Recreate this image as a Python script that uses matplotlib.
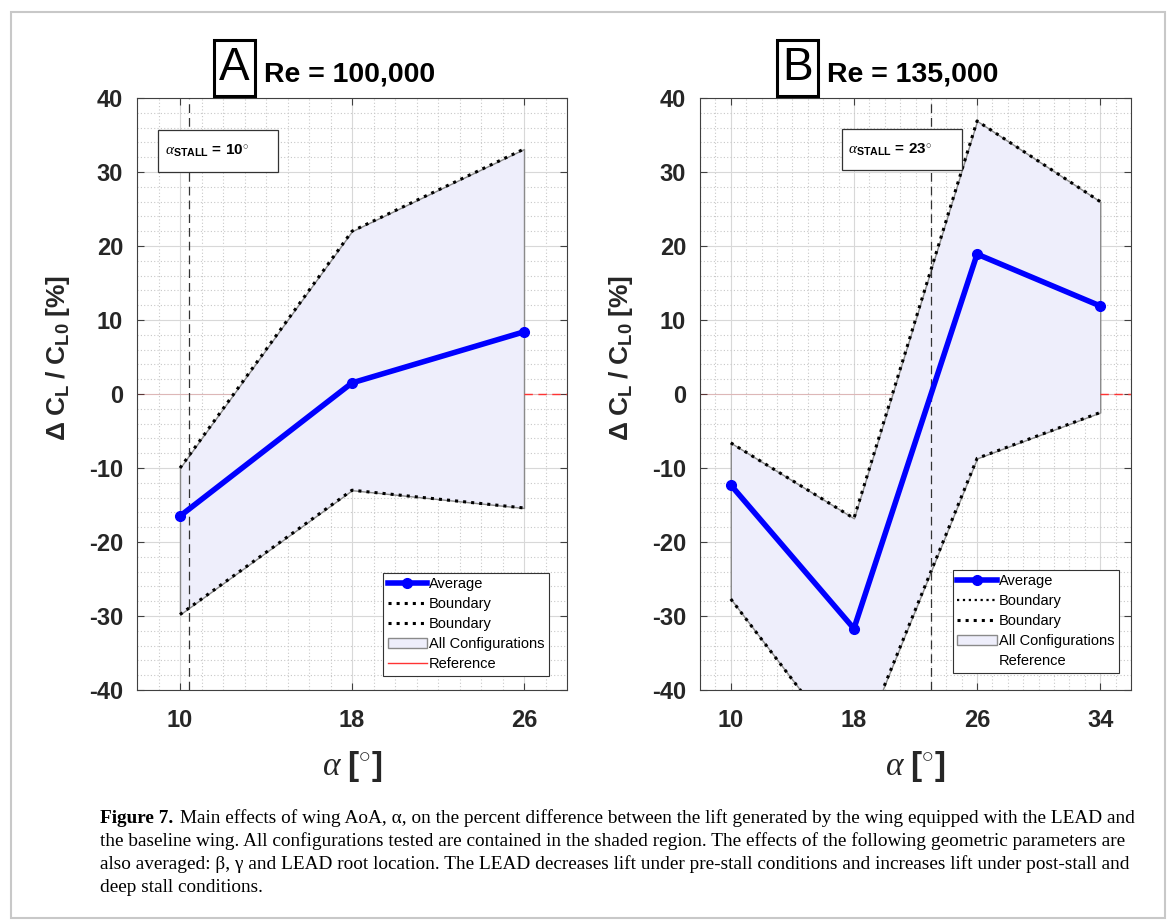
import matplotlib
matplotlib.use('Agg')
import numpy as np
import matplotlib.pyplot as plt
from matplotlib.lines import Line2D
from matplotlib.patches import Patch, Rectangle

plt.rcParams['font.family'] = ['Liberation Sans', 'DejaVu Sans']
plt.rcParams['mathtext.fontset'] = 'custom'
plt.rcParams['mathtext.rm'] = 'Liberation Sans'
plt.rcParams['mathtext.bf'] = 'Liberation Sans:bold'
plt.rcParams['mathtext.it'] = 'Liberation Serif:italic'
plt.rcParams['axes.unicode_minus'] = False

# data
alpha_A = [10, 18, 26]
avg_A = [-16.5, 1.5, 8.4]
upper_A = [-10.0, 22.0, 33.1]
lower_A = [-29.8, -13.0, -15.4]

alpha_B = [10, 18, 26, 34]
avg_B = [-12.3, -31.7, 18.9, 11.9]
upper_B = [-6.6, -16.8, 36.9, 26.0]
lower_B = [-27.7, -49.5, -8.7, -2.5]

stall_label = [10, 23]
stall_line = [10.4, 23.0]
panel_letters = ['A', 'B']
panel_re = ['Re = 100,000', 'Re = 135,000']
xlims = [(8, 28), (8, 36)]

caption = [
    'Main effects of wing AoA, \u03b1, on the percent difference between the lift generated by the wing equipped with the LEAD and',
    'the baseline wing. All configurations tested are contained in the shaded region. The effects of the following geometric parameters are',
    'also averaged: \u03b2, \u03b3 and LEAD root location. The LEAD decreases lift under pre-stall conditions and increases lift under post-stall and',
    'deep stall conditions.',
]

W, H = 1168, 921
fig = plt.figure(figsize=(W / 100, H / 100), dpi=100)
fig.patches.append(Rectangle((11 / W, 3 / H), 1154 / W, 906 / H, transform=fig.transFigure,
                             fill=False, edgecolor='#c8c8c8', lw=1.5))

axes_left = [137, 700]
axes_w = [430, 431]
fill_col = '#eeeefb'

data = [(alpha_A, avg_A, upper_A, lower_A), (alpha_B, avg_B, upper_B, lower_B)]
legend_anchor = [(0.958, 0.024), (0.972, 0.029)]
stall_box = [(0.049, 0.875, 0.279, 0.071), (0.329, 0.878, 0.279, 0.070)]

for i in range(2):
    x, avg, up, lo = data[i]
    ax = fig.add_axes([axes_left[i] / W, 231 / H, axes_w[i] / W, 592 / H])
    ax.set_xlim(*xlims[i])
    ax.set_ylim(-40, 40)

    ax.axhline(0, color='red', lw=0.8, alpha=0.15, zorder=1)
    ax.fill_between(x, lo, up, facecolor=fill_col, edgecolor='#8a8a8a', lw=1.0, zorder=2)
    ax.plot(x, up, color='black', ls=':', lw=2.2, zorder=3)
    ax.plot(x, lo, color='black', ls=':', lw=2.2, zorder=3)
    ax.plot(x, avg, color='#0000ff', lw=4, marker='o', ms=7, zorder=5)
    ax.hlines(0, x[-1], xlims[i][1], color='#ff3333', ls=(0, (6, 4)), lw=1.0, zorder=4)
    ax.axvline(stall_line[i], color='#333333', ls=(0, (7, 4)), lw=0.9, zorder=4)

    ax.set_xticks(x)
    ax.set_yticks(np.arange(-40, 41, 10))
    ax.set_xticks(np.arange(xlims[i][0], xlims[i][1] + 1, 1), minor=True)
    ax.set_yticks(np.arange(-40, 41, 2), minor=True)
    ax.grid(which='major', color='#d8d8d8', lw=0.8, ls='-', zorder=0)
    ax.grid(which='minor', color='#c8c8c8', lw=0.8, ls=(0, (1, 2)), zorder=0)
    ax.set_axisbelow(True)
    ax.tick_params(which='major', direction='in', top=True, right=True, length=5,
                   color='#404040', labelsize=17, pad=10)
    ax.tick_params(axis='x', which='major', pad=14)
    ax.tick_params(which='minor', length=0)
    for lab in ax.get_xticklabels() + ax.get_yticklabels():
        lab.set_fontweight('bold')
        lab.set_color('#262626')
    for s in ax.spines.values():
        s.set_color('#404040')
        s.set_linewidth(0.8)

    ax.set_ylabel(r'$\mathbf{\Delta\ C_L\ /\ C_{L0}\ [\%]}$', fontsize=19, color='#262626')
    ax.yaxis.set_label_coords(-0.15, 0.56)
    ax.set_xlabel(r'$\alpha\ \mathbf{[^{\circ}]}$', fontsize=24, color='#262626')
    ax.xaxis.set_label_coords(0.5, -0.10)

    # stall annotation box
    bx, by, bw, bh = stall_box[i]
    ax.add_patch(Rectangle((bx, by), bw, bh, transform=ax.transAxes, facecolor='white',
                           edgecolor='#333333', lw=0.9, zorder=6))
    ax.text(bx + 0.015, by + bh / 2, r'$\alpha_{\mathbf{STALL}}$' + ' = %d' % stall_label[i] + r'$^{\circ}$',
            transform=ax.transAxes, fontsize=11, fontweight='bold', va='center', ha='left', zorder=7)

    handles = [
        Line2D([], [], color='#0000ff', lw=4, marker='o', ms=7),
        Line2D([], [], color='black', ls=':', lw=2.2 if i == 0 else 1.6),
        Line2D([], [], color='black', ls=':', lw=2.2),
        Patch(facecolor=fill_col, edgecolor='#8a8a8a'),
        Line2D([], [], color='#ff3333' if i == 0 else 'none', lw=1),
    ]
    labels = ['Average', 'Boundary', 'Boundary', 'All Configurations', 'Reference']
    leg = ax.legend(handles, labels, loc='lower right', bbox_to_anchor=legend_anchor[i],
                    borderaxespad=0, fontsize=10.5, handlelength=2.7, handletextpad=0.15,
                    labelspacing=0.42, fancybox=False, framealpha=1, edgecolor='#333333',
                    borderpad=0.3)
    leg.get_frame().set_linewidth(0.8)
    leg.set_zorder(8)

    # panel titles
    box_x = [214, 777][i]
    fig.patches.append(Rectangle((box_x / W, (H - 96) / H), 41 / W, 56 / H, transform=fig.transFigure,
                                 fill=False, edgecolor='black', lw=2.2))
    fig.text((box_x + 20.5) / W, (H - 68) / H, panel_letters[i], fontsize=33, ha='center', va='center')
    fig.text((box_x + 50) / W, (H - 75) / H, panel_re[i], fontsize=20.5, fontweight='bold',
             ha='left', va='center')

# caption
cap_y = [818, 841, 864, 887]
cap_font = ['Liberation Serif', 'DejaVu Serif']
cap_size = 13.9
fig.text(100 / W, (H - cap_y[0]) / H, 'Figure 7.', fontsize=cap_size, fontweight='bold',
         family=cap_font, va='center', ha='left')
fig.text(180 / W, (H - cap_y[0]) / H, caption[0], fontsize=cap_size, family=cap_font, va='center', ha='left')
for k in range(1, 4):
    fig.text(100 / W, (H - cap_y[k]) / H, caption[k], fontsize=cap_size, family=cap_font,
             va='center', ha='left')

fig.savefig('out.png', dpi=100)
